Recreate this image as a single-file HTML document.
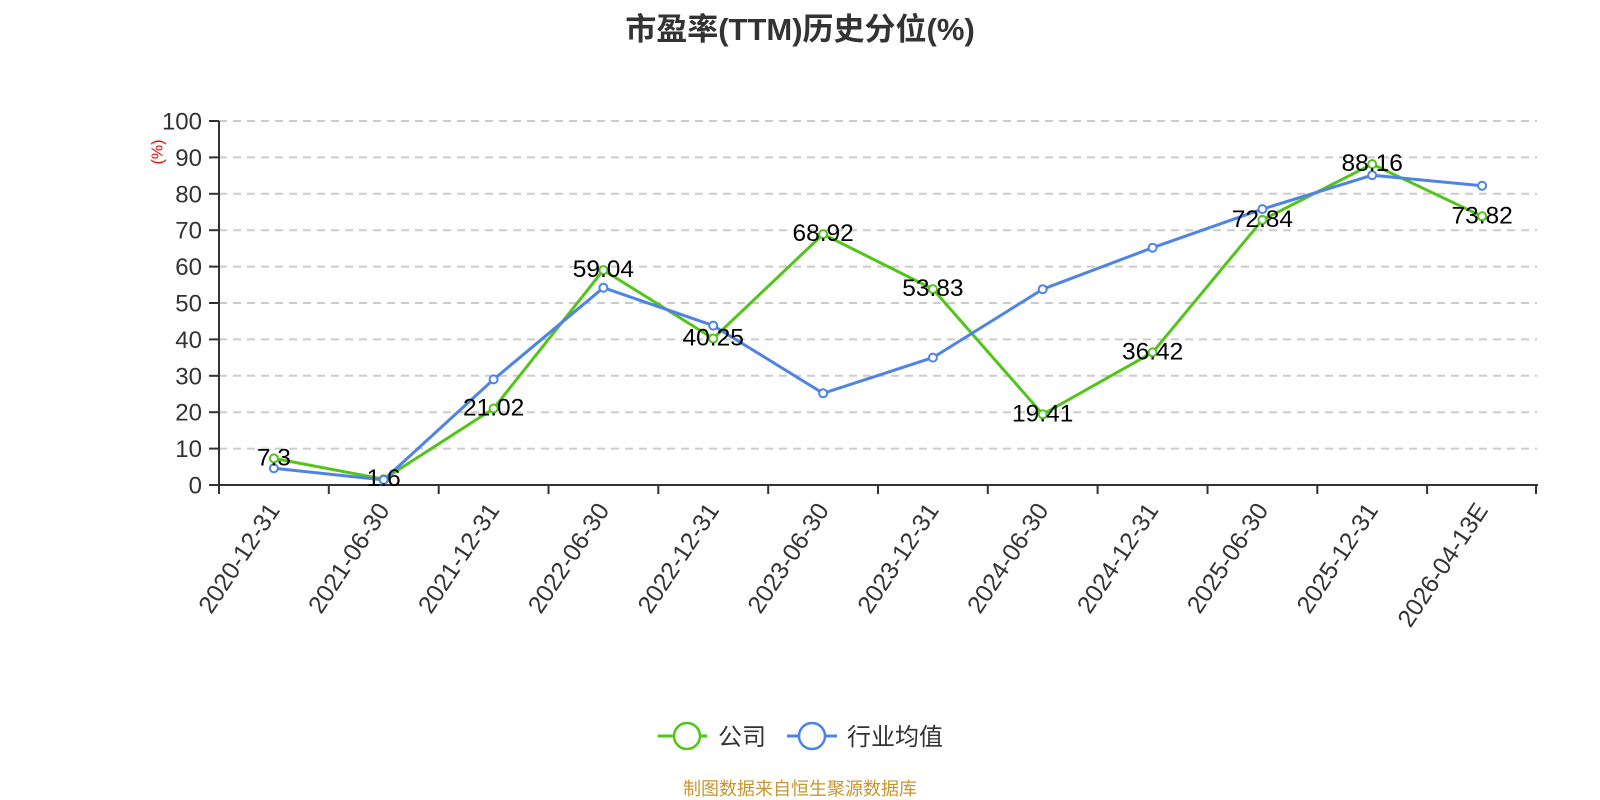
<!DOCTYPE html>
<html>
<head>
<meta charset="utf-8">
<style>
html,body{margin:0;padding:0;background:#fff;}
svg{display:block;}
text{font-family:"Liberation Sans","Noto Sans CJK SC",sans-serif;}
</style>
</head>
<body>
<svg width="1600" height="800" viewBox="0 0 1600 800" xmlns="http://www.w3.org/2000/svg">
<rect width="1600" height="800" fill="#fff"/>
<!-- title -->
<text x="800" y="40" text-anchor="middle" font-size="31" font-weight="bold" fill="#333">市盈率(TTM)历史分位(%)</text>

<!-- grid lines -->
<g stroke="#cccccc" stroke-width="2" stroke-dasharray="8,6">
<line x1="219" y1="448.6" x2="1537" y2="448.6"/>
<line x1="219" y1="412.2" x2="1537" y2="412.2"/>
<line x1="219" y1="375.8" x2="1537" y2="375.8"/>
<line x1="219" y1="339.4" x2="1537" y2="339.4"/>
<line x1="219" y1="303" x2="1537" y2="303"/>
<line x1="219" y1="266.6" x2="1537" y2="266.6"/>
<line x1="219" y1="230.2" x2="1537" y2="230.2"/>
<line x1="219" y1="193.8" x2="1537" y2="193.8"/>
<line x1="219" y1="157.4" x2="1537" y2="157.4"/>
<line x1="219" y1="121" x2="1537" y2="121"/>
</g>

<!-- y axis -->
<g stroke="#333" stroke-width="2">
<line x1="219" y1="121" x2="219" y2="486"/>
<line x1="209" y1="485" x2="219" y2="485"/>
<line x1="209" y1="448.6" x2="219" y2="448.6"/>
<line x1="209" y1="412.2" x2="219" y2="412.2"/>
<line x1="209" y1="375.8" x2="219" y2="375.8"/>
<line x1="209" y1="339.4" x2="219" y2="339.4"/>
<line x1="209" y1="303" x2="219" y2="303"/>
<line x1="209" y1="266.6" x2="219" y2="266.6"/>
<line x1="209" y1="230.2" x2="219" y2="230.2"/>
<line x1="209" y1="193.8" x2="219" y2="193.8"/>
<line x1="209" y1="157.4" x2="219" y2="157.4"/>
<line x1="209" y1="121" x2="219" y2="121"/>
</g>
<g font-size="24" fill="#333" text-anchor="end">
<text x="202" y="493.5">0</text>
<text x="202" y="457.1">10</text>
<text x="202" y="420.7">20</text>
<text x="202" y="384.3">30</text>
<text x="202" y="347.9">40</text>
<text x="202" y="311.5">50</text>
<text x="202" y="275.1">60</text>
<text x="202" y="238.7">70</text>
<text x="202" y="202.3">80</text>
<text x="202" y="165.9">90</text>
<text x="202" y="129.5">100</text>
</g>
<text transform="translate(158,152) rotate(-90)" text-anchor="middle" dominant-baseline="central" font-size="16" fill="#ff0000">(%)</text>

<!-- x axis -->
<g stroke="#333" stroke-width="2">
<line x1="218" y1="485" x2="1538" y2="485"/>
<line x1="219" y1="485" x2="219" y2="494"/>
<line x1="328.8" y1="485" x2="328.8" y2="494"/>
<line x1="438.7" y1="485" x2="438.7" y2="494"/>
<line x1="548.5" y1="485" x2="548.5" y2="494"/>
<line x1="658.3" y1="485" x2="658.3" y2="494"/>
<line x1="768.2" y1="485" x2="768.2" y2="494"/>
<line x1="878" y1="485" x2="878" y2="494"/>
<line x1="987.8" y1="485" x2="987.8" y2="494"/>
<line x1="1097.6" y1="485" x2="1097.6" y2="494"/>
<line x1="1207.5" y1="485" x2="1207.5" y2="494"/>
<line x1="1317.3" y1="485" x2="1317.3" y2="494"/>
<line x1="1427.1" y1="485" x2="1427.1" y2="494"/>
<line x1="1536" y1="485" x2="1536" y2="494"/>
</g>
<g font-size="24.6" fill="#333" text-anchor="end" dominant-baseline="central">
<text transform="translate(274.4,506) rotate(-56.5)">2020-12-31</text>
<text transform="translate(384.2,506) rotate(-56.5)">2021-06-30</text>
<text transform="translate(494.1,506) rotate(-56.5)">2021-12-31</text>
<text transform="translate(603.9,506) rotate(-56.5)">2022-06-30</text>
<text transform="translate(713.7,506) rotate(-56.5)">2022-12-31</text>
<text transform="translate(823.6,506) rotate(-56.5)">2023-06-30</text>
<text transform="translate(933.4,506) rotate(-56.5)">2023-12-31</text>
<text transform="translate(1043.2,506) rotate(-56.5)">2024-06-30</text>
<text transform="translate(1153.1,506) rotate(-56.5)">2024-12-31</text>
<text transform="translate(1262.9,506) rotate(-56.5)">2025-06-30</text>
<text transform="translate(1372.7,506) rotate(-56.5)">2025-12-31</text>
<text transform="translate(1482.6,506) rotate(-56.5)">2026-04-13E</text>
</g>

<!-- company series -->
<polyline fill="none" stroke="#52c41a" stroke-width="3" stroke-linejoin="round"
 points="273.9,458.4 383.7,479.2 493.6,408.5 603.4,270.1 713.2,338.5 823.1,234.1 932.9,289.1 1042.7,414.3 1152.6,352.4 1262.4,219.9 1372.2,164.1 1482.1,216.3"/>
<!-- industry series -->
<polyline fill="none" stroke="#4f84e4" stroke-width="3" stroke-linejoin="round"
 points="273.9,468.3 383.7,479.9 493.6,379.4 603.4,287.7 713.2,325.6 823.1,393.3 932.9,357.6 1042.7,289.2 1152.6,247.7 1262.4,209.1 1372.2,175.2 1482.1,185.8"/>

<g fill="#fff" stroke="#52c41a" stroke-width="2">
<circle cx="273.9" cy="458.4" r="4"/>
<circle cx="383.7" cy="479.2" r="4"/>
<circle cx="493.6" cy="408.5" r="4"/>
<circle cx="603.4" cy="270.1" r="4"/>
<circle cx="713.2" cy="338.5" r="4"/>
<circle cx="823.1" cy="234.1" r="4"/>
<circle cx="932.9" cy="289.1" r="4"/>
<circle cx="1042.7" cy="414.3" r="4"/>
<circle cx="1152.6" cy="352.4" r="4"/>
<circle cx="1262.4" cy="219.9" r="4"/>
<circle cx="1372.2" cy="164.1" r="4"/>
<circle cx="1482.1" cy="216.3" r="4"/>
</g>
<g fill="#fff" stroke="#4f84e4" stroke-width="2">
<circle cx="273.9" cy="468.3" r="4"/>
<circle cx="383.7" cy="479.9" r="4"/>
<circle cx="493.6" cy="379.4" r="4"/>
<circle cx="603.4" cy="287.7" r="4"/>
<circle cx="713.2" cy="325.6" r="4"/>
<circle cx="823.1" cy="393.3" r="4"/>
<circle cx="932.9" cy="357.6" r="4"/>
<circle cx="1042.7" cy="289.2" r="4"/>
<circle cx="1152.6" cy="247.7" r="4"/>
<circle cx="1262.4" cy="209.1" r="4"/>
<circle cx="1372.2" cy="175.2" r="4"/>
<circle cx="1482.1" cy="185.8" r="4"/>
</g>

<!-- data labels -->
<g font-size="24.5" fill="#000" text-anchor="middle">
<text x="273.9" y="465.4">7.3</text>
<text x="383.7" y="486.2">1.6</text>
<text x="493.6" y="415.5">21.02</text>
<text x="603.4" y="277.1">59.04</text>
<text x="713.2" y="345.5">40.25</text>
<text x="823.1" y="241.1">68.92</text>
<text x="932.9" y="296.1">53.83</text>
<text x="1042.7" y="421.3">19.41</text>
<text x="1152.6" y="359.4">36.42</text>
<text x="1262.4" y="226.9">72.84</text>
<text x="1372.2" y="171.1">88.16</text>
<text x="1482.1" y="223.3">73.82</text>
</g>

<!-- legend -->
<line x1="658" y1="736" x2="707" y2="736" stroke="#52c41a" stroke-width="3"/>
<circle cx="687" cy="736" r="13" fill="#fff" stroke="#52c41a" stroke-width="2.5"/>
<text x="718" y="745" font-size="24" fill="#333">公司</text>
<line x1="787" y1="736" x2="837" y2="736" stroke="#4f84e4" stroke-width="3"/>
<circle cx="812" cy="736" r="13" fill="#fff" stroke="#4f84e4" stroke-width="2.5"/>
<text x="847" y="745" font-size="24" fill="#333">行业均值</text>

<!-- footer -->
<text x="800" y="795" text-anchor="middle" font-size="18" fill="#c9952e">制图数据来自恒生聚源数据库</text>
</svg>
</body>
</html>
